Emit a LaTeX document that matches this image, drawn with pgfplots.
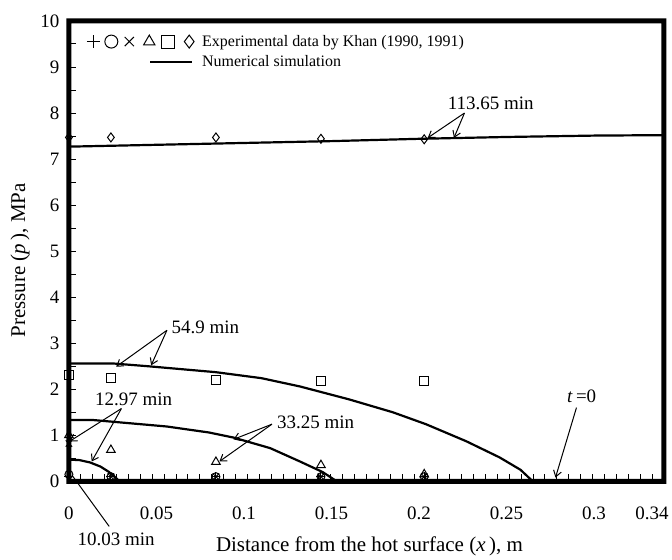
\documentclass[border=0pt]{standalone}
\usepackage{fontspec}
\setmainfont{Liberation Serif}
\usepackage{pgfplots}
\pgfplotsset{compat=1.18}
\usetikzlibrary{arrows.meta}
\newcommand\fs{\fontsize{19bp}{22bp}\selectfont}
\newcommand\fl{\fontsize{21bp}{24bp}\selectfont}
\newcommand\fg{\fontsize{16bp}{19bp}\selectfont}
\begin{document}
\begin{tikzpicture}
\begin{axis}[
  name=ax,
  width=596bp, height=461bp, scale only axis,
  xmin=0, xmax=0.34, ymin=0, ymax=10,
  clip=false,
  xtick={0,0.05,0.1,0.15,0.2,0.25,0.3,0.3332},
  xticklabels={0,0.05,0.1,0.15,0.2,0.25,0.3,0.34},
  minor xtick={0,0.0068,...,0.34},
  ytick={0,1,...,10},
  minor ytick={0.5,1.5,...,9.5},
  xtick pos=bottom, ytick pos=left,
  tick align=inside,
  major tick length=7bp, minor tick length=7bp,
  tick style={line width=1bp, black},
  major x tick style={draw=none},
  /pgf/number format/assume math mode=true,
  tick label style={font=\fs},
  x tick label style={yshift=-22bp},
  y tick label style={xshift=-6bp},
  label style={font=\fl},
  xlabel={Distance from the hot surface (\textit{x}\,), m},
  ylabel={Pressure (\textit{p}\,), MPa},
  xlabel style={at={(axis description cs:0.505,-0.142)}, anchor=center},
  ylabel style={at={(axis description cs:-0.082,0.48)}, anchor=center},
  legend style={font=\fg, draw=none, fill=none, at={(rel axis cs:0.024,0.978)}, anchor=north west, row sep=4bp},
  legend cell align=left,
]
% legend
\addlegendimage{legend image code/.code={%
  \path[draw=none] (-7bp,0bp) -- (107bp,0bp);
  \foreach \m/\xx in {+/0, o/18, x/36, triangle/56, square/75, diamond/96}{%
    \draw[black, line width=1bp, mark size=6.5bp, mark=\m] plot coordinates {(\xx bp,0bp)};}
}}
\addlegendentry{Experimental data by Khan (1990, 1991)}
\addlegendimage{legend image code/.code={\path[draw=none] (-7bp,0bp) -- (107bp,0bp); \draw[black, line width=2.2bp] (57bp,0bp) -- (99bp,0bp);}}
\addlegendentry{Numerical simulation}

% numerical simulation curves
\addplot[black, line width=2.2bp, forget plot] coordinates {
 (0,7.27) (0.05,7.31) (0.1,7.35) (0.15,7.39) (0.2,7.44) (0.25,7.48) (0.3,7.51) (0.34,7.52)};
\addplot[black, line width=2.2bp, forget plot] coordinates {
 (0,2.56) (0.025,2.56) (0.045,2.50) (0.084,2.37) (0.11,2.24) (0.132,2.06) (0.16,1.78)
 (0.185,1.50) (0.204,1.24) (0.227,0.87) (0.246,0.52) (0.258,0.25) (0.265,0)};
\addplot[black, line width=2.2bp, forget plot] coordinates {
 (0,1.33) (0.014,1.33) (0.023,1.30) (0.056,1.19) (0.08,1.06) (0.094,0.95) (0.115,0.72)
 (0.132,0.43) (0.145,0.2) (0.153,0)};
\addplot[black, line width=2.2bp, forget plot] coordinates {
 (0,0.47) (0.006,0.46) (0.012,0.41) (0.018,0.32) (0.023,0.2) (0.029,0)};

% experimental data
\addplot[only marks, mark=+, mark size=4.5bp, line width=1bp, forget plot] coordinates {
 (0,0.1) (0.024,0.1) (0.084,0.1) (0.144,0.1) (0.203,0.1)};
\addplot[only marks, mark=o, mark size=4bp, line width=1bp, forget plot] coordinates {
 (0,0.15) (0.024,0.1) (0.084,0.1) (0.144,0.1) (0.203,0.1)};
\addplot[only marks, mark=x, mark size=4.5bp, line width=1bp, forget plot] coordinates {
 (0,0.82) (0.024,0.1) (0.084,0.1) (0.144,0.1) (0.203,0.1)};
\addplot[only marks, mark=triangle, mark size=5bp, line width=1bp, forget plot] coordinates {
 (0,1.0) (0.024,0.68) (0.084,0.42) (0.144,0.35) (0.203,0.15)};
\addplot[only marks, mark=square, mark size=4.5bp, line width=1bp, forget plot] coordinates {
 (0,2.3) (0.024,2.24) (0.084,2.2) (0.144,2.18) (0.203,2.18)};
\addplot[only marks, mark=diamond, mark size=4.5bp, line width=1bp, forget plot] coordinates {
 (0,7.47) (0.024,7.47) (0.084,7.47) (0.144,7.44) (0.203,7.43)};

% annotations
\begin{scope}[-{Straight Barb[length=6bp,width=8bp]}, line width=1bp]
\draw (axis cs:0.226,8.0) -- (axis cs:0.205,7.46);
\draw (axis cs:0.226,8.0) -- (axis cs:0.220,7.46);
\draw (axis cs:0.056,3.28) -- (axis cs:0.027,2.49);
\draw (axis cs:0.056,3.28) -- (axis cs:0.047,2.52);
\draw (axis cs:0.030,1.58) -- (axis cs:0.0005,0.87);
\draw (axis cs:0.030,1.58) -- (axis cs:0.013,0.43);
\draw (axis cs:0.116,1.24) -- (axis cs:0.094,0.91);
\draw (axis cs:0.116,1.24) -- (axis cs:0.086,0.43);
\draw (axis cs:0.290,1.6) -- (axis cs:0.278,0.08);
\end{scope}
\draw[line width=1bp] (axis cs:0.023,-0.98) -- (axis cs:0.002,0.12);
\node[font=\fs] at (axis cs:0.241,8.22) {113.65 min};
\node[font=\fs] at (axis cs:0.078,3.34) {54.9 min};
\node[font=\fs] at (axis cs:0.037,1.78) {12.97 min};
\node[font=\fs, anchor=west] at (axis cs:0.117,1.28) {33.25 min};
\node[font=\fs] at (axis cs:0.027,-1.26) {10.03 min};
\node[font=\fs] at (axis cs:0.293,1.84) {\textit{t}\,=0};

\path (rel axis cs:-0.1158,-0.1518) rectangle (rel axis cs:1.0117,1.0456);
\end{axis}
\fill[black, even odd rule]
  ([shift={(-2.5bp,-2.5bp)}]ax.south west) rectangle ([shift={(2.5bp,2.5bp)}]ax.north east)
  ([shift={(2.5bp,2.5bp)}]ax.south west) rectangle ([shift={(-2.5bp,-2.5bp)}]ax.north east);
\end{tikzpicture}
\end{document}
